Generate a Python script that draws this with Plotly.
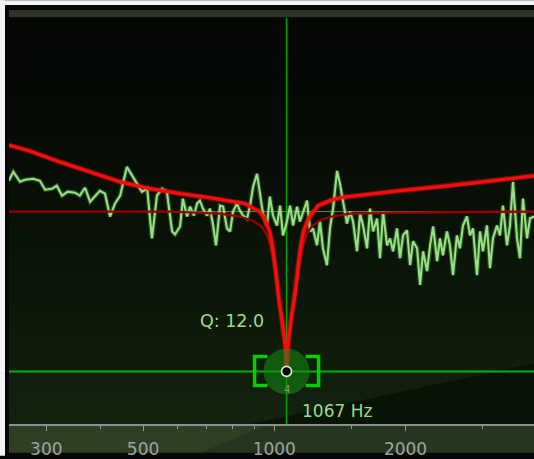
import math
import plotly.graph_objects as go

# ---------------- data ----------------
spec_freq = [246, 252, 261, 268, 280, 290, 298, 309, 317, 326,
             336, 349, 358, 368, 378, 388, 398, 409, 420, 431,
             443, 459, 474, 487, 497, 511, 524, 538, 553, 567,
             583, 592, 608, 617, 631, 641, 654, 665, 675, 686,
             701, 712, 723, 735, 751, 763, 779, 792, 804, 821,
             834, 848, 866, 880, 894, 913, 927, 942, 962, 977,
             993, 1014, 1031, 1047, 1069, 1087, 1104, 1128, 1145, 1164,
             1189, 1208, 1227, 1253, 1273, 1293, 1321, 1342, 1364, 1393,
             1415, 1438, 1468, 1492, 1516, 1548, 1573, 1598, 1632, 1658,
             1685, 1721, 1748, 1776, 1814, 1843, 1873, 1912, 1943, 1974,
             2016, 2049, 2081, 2126, 2160, 2194, 2241, 2277, 2314, 2363,
             2399, 2437, 2489, 2529, 2570, 2624, 2666, 2709, 2767, 2811,
             2856, 2917, 2964, 3011, 3075, 3124, 3174, 3242, 3294, 3346,
             3418, 3472, 3528, 3604, 3661, 3719, 3799, 3860, 3942]
spec_db = [3.1, 4.0, 3.0, 3.2, 3.3, 3.1, 2.2, 2.3, 2.6, 1.6,
           2.0, 1.9, 1.6, 2.4, 1.0, 1.6, 2.1, 1.8, -0.5, 0.8,
           1.6, 4.5, 3.5, 2.6, 2.0, 2.3, -2.7, 1.6, 2.3, 2.0,
           -2.0, -2.3, -1.5, 1.3, -0.5, 0.5, -0.4, 0.8, 1.1, 0.3,
           -0.4, 0.3, -1.2, -3.4, 0.6, 0.5, -1.7, -2.0, 0.0, 0.8,
           0.1, -0.4, -0.7, 0.6, 2.5, 3.8, 1.6, -0.2, -1.4, 1.5,
           -0.4, -1.4, 0.6, -2.4, -1.0, 0.6, -1.4, 0.5, -1.0, 0.0,
           1.1, -2.0, -1.7, -3.4, -1.0, -3.7, -5.4, -1.7, 0.3, 4.1,
           2.8, 1.0, -1.2, 0.0, -1.0, -4.0, -0.2, -1.4, -3.7, 0.3,
           -2.0, -0.7, -4.7, 0.0, -3.4, -2.7, -4.0, -1.7, -4.7, -2.4,
           -1.9, -5.4, -3.0, -3.7, -7.4, -4.0, -6.0, -3.4, -1.5, -5.0,
           -2.7, -4.4, -2.0, -3.4, -6.4, -2.4, -3.7, -1.4, -0.5, -2.4,
           -1.7, -6.4, -2.0, -4.0, -1.4, -5.7, -2.7, -1.4, -2.4, 0.6,
           -3.4, -1.4, 3.0, -2.7, -4.7, 1.3, -2.7, -0.7, -0.5]

total_freq = [246, 275, 322, 378, 443, 519, 608, 712, 792, 857,
              889, 925, 950, 976, 991, 1002, 1012, 1023, 1039, 1050,
              1061, 1067, 1073, 1084, 1096, 1113, 1125, 1137, 1149, 1167,
              1198, 1231, 1260, 1342, 1415, 1943, 2529, 3294, 3942]
total_db = [6.7, 6.1, 5.0, 4.0, 3.0, 2.3, 1.8, 1.4, 1.1, 0.8,
            0.4, 0.0, -0.7, -2.0, -3.5, -5.0, -6.7, -8.7, -10.5, -12.0,
            -13.7, -16.1, -13.7, -12.0, -10.5, -8.7, -6.7, -5.0, -3.5, -2.0,
            -0.7, 0.0, 0.6, 1.1, 1.4, 2.1, 2.6, 3.2, 3.6]

band_freq = [246, 577, 751, 834, 889, 935, 960, 976, 991, 1002,
             1012, 1023, 1039, 1050, 1061, 1067, 1073, 1084, 1096, 1113,
             1125, 1137, 1149, 1167, 1186, 1218, 1270, 1353, 1492, 1943,
             3942]
band_db = [0.0, 0.0, -0.2, -0.5, -0.9, -1.5, -2.3, -3.2, -4.5, -5.5,
           -7.0, -8.8, -10.6, -12.1, -13.8, -16.1, -13.8, -12.1, -10.6, -8.8,
           -7.0, -5.5, -4.5, -3.2, -2.3, -1.5, -0.9, -0.5, -0.2, -0.1,
           0.0]

node_freq = 1067
node_db = -16.1
node_q = 12.0
node_id = 4

x_ticks_major = [300, 500, 1000, 2000]
x_ticks_minor = [400, 600, 700, 800, 900, 1500, 3000]
x_range_hz = [246.3, 3942]
y_range_db = [-21.4, 19.5]

# ---------------- geometry / style ----------------
W, H = 534, 459
L, R, T, B = 9, 0, 18, 32
PW, PH = W - L - R, H - T - B


def px(x):
    return (x - L) / PW


def py(y):
    return (H - B - y) / PH


shapes = []
# white page edges
shapes.append(dict(type="rect", xref="paper", yref="paper", x0=px(0), x1=px(5), y0=py(H), y1=py(0),
                   fillcolor="#f3f3f3", line_width=0, layer="below"))
shapes.append(dict(type="rect", xref="paper", yref="paper", x0=px(0), x1=px(W), y0=py(5), y1=py(0),
                   fillcolor="#f3f3f3", line_width=0, layer="below"))
# top band
shapes.append(dict(type="rect", xref="paper", yref="paper", x0=0, x1=1, y0=py(18), y1=py(10),
                   fillcolor="#2b3427", line_width=0, layer="below"))
# plot background gradient
nb = 30
for i in range(nb):
    t = (i + 0.5) / nb
    k = t ** 1.4
    col = "rgb(%d,%d,%d)" % (4 + 16 * k, 7 + 28 * k, 4 + 10 * k)
    shapes.append(dict(type="rect", xref="paper", yref="paper", x0=0, x1=1,
                       y0=1 - (i + 1) / nb, y1=1 - i / nb + 0.002,
                       fillcolor=col, line_width=0, layer="below"))
# darker diagonal in bottom-right corner
shapes.append(dict(type="path", xref="paper", yref="paper",
                   path="M %f,%f L %f,%f L %f,%f Z" % (px(250), py(427), px(534), py(366), px(534), py(427)),
                   fillcolor="rgba(0,10,0,0.55)", line_width=0, layer="below"))
# bottom axis strip
shapes.append(dict(type="rect", xref="paper", yref="paper", x0=0, x1=1, y0=py(456), y1=py(427),
                   fillcolor="#25351f", line_width=0, layer="below"))
shapes.append(dict(type="path", xref="paper", yref="paper",
                   path="M %f,%f L %f,%f L %f,%f L %f,%f Z" % (px(9), py(427), px(270), py(427),
                                                             px(200), py(456), px(9), py(456)),
                   fillcolor="rgba(70,100,60,0.25)", line_width=0, layer="below"))

# node brackets (pixel-sized, anchored on the node)
for sgn in (-1, 1):
    shapes.append(dict(type="path", xref="x", yref="y", xsizemode="pixel", ysizemode="pixel",
                       xanchor=node_freq, yanchor=node_db,
                       path="M %d,15 L %d,15 L %d,-14 L %d,-14" % (sgn * 19, sgn * 32, sgn * 32, sgn * 19),
                       line=dict(color="#00d000", width=3.5), layer="above"))

fig = go.Figure()

# 0 dB reference
fig.add_trace(go.Scatter(x=x_range_hz, y=[0, 0], mode="lines",
                         line=dict(color="rgba(200,205,130,0.55)", width=1), hoverinfo="skip"))
# node crosshair
fig.add_trace(go.Scatter(x=[node_freq, node_freq], y=y_range_db, mode="lines",
                         line=dict(color="#00a000", width=1.6), hoverinfo="skip"))
fig.add_trace(go.Scatter(x=x_range_hz, y=[node_db, node_db], mode="lines",
                         line=dict(color="#00b000", width=2), hoverinfo="skip"))
# spectrum
fig.add_trace(go.Scatter(x=spec_freq, y=spec_db, mode="lines",
                         line=dict(color="rgba(120,220,100,0.28)", width=4.5), hoverinfo="skip"))
fig.add_trace(go.Scatter(x=spec_freq, y=spec_db, mode="lines",
                         line=dict(color="#96e282", width=2.1), hoverinfo="skip"))
# band response (dark red)
fig.add_trace(go.Scatter(x=band_freq, y=band_db, mode="lines",
                         line=dict(color="#9a0000", width=2.3), hoverinfo="skip"))
# total response (bright red)
fig.add_trace(go.Scatter(x=total_freq, y=total_db, mode="lines",
                         line=dict(color="rgba(255,30,30,0.35)", width=5.5), hoverinfo="skip"))
fig.add_trace(go.Scatter(x=total_freq, y=total_db, mode="lines",
                         line=dict(color="#ff0a0a", width=3.3), hoverinfo="skip"))
# node
fig.add_trace(go.Scatter(x=[node_freq], y=[node_db], mode="markers",
                         marker=dict(size=46, color="rgba(20,140,20,0.55)", line_width=0), hoverinfo="skip"))
fig.add_trace(go.Scatter(x=[node_freq], y=[node_db], mode="markers",
                         marker=dict(size=10, color="#000000", line=dict(color="#e8e8e8", width=1.6)),
                         hoverinfo="skip"))

font_main = "DejaVu Sans"
annotations = [
    dict(x=math.log10(node_freq), y=node_db, xref="x", yref="y", text="Q: %.1f" % node_q,
         showarrow=False, xshift=-55, yshift=50, font=dict(family=font_main, size=17.5, color="#9fdc8a")),
    dict(x=math.log10(node_freq), y=node_db, xref="x", yref="y", text="%d Hz" % node_freq,
         showarrow=False, xshift=50, yshift=-40, font=dict(family=font_main, size=17, color="#9fdc8a")),
    dict(x=math.log10(node_freq), y=node_db, xref="x", yref="y", text=str(node_id),
         showarrow=False, xshift=0, yshift=-18, font=dict(family=font_main, size=10, color="#7f9c72")),
]

fig.update_layout(
    width=W, height=H,
    margin=dict(l=L, r=R, t=T, b=B, pad=0),
    paper_bgcolor="#060706",
    plot_bgcolor="rgba(0,0,0,0)",
    showlegend=False,
    shapes=shapes,
    annotations=annotations,
    xaxis=dict(type="log", range=[math.log10(v) for v in x_range_hz],
               tickvals=x_ticks_major, ticktext=[str(v) for v in x_ticks_major],
               ticks="outside", ticklen=5, tickwidth=1, tickcolor="#9a9a9a",
               minor=dict(tickvals=x_ticks_minor, ticks="outside", ticklen=3, tickwidth=1,
                          tickcolor="#9a9a9a", showgrid=False),
               showgrid=False, zeroline=False,
               showline=True, linecolor="#8e8e8e", linewidth=1.5,
               tickfont=dict(family=font_main, size=17, color="#a2a2a2"),
               ticklabelstandoff=4, fixedrange=True),
    yaxis=dict(range=y_range_db, visible=False, showgrid=False, zeroline=False, fixedrange=True),
)

fig.write_html("out.html", config={"displayModeBar": False},
               post_script="document.body.style.margin='0px';document.body.style.overflow='hidden';"
                           "document.body.style.background='#060706';")
